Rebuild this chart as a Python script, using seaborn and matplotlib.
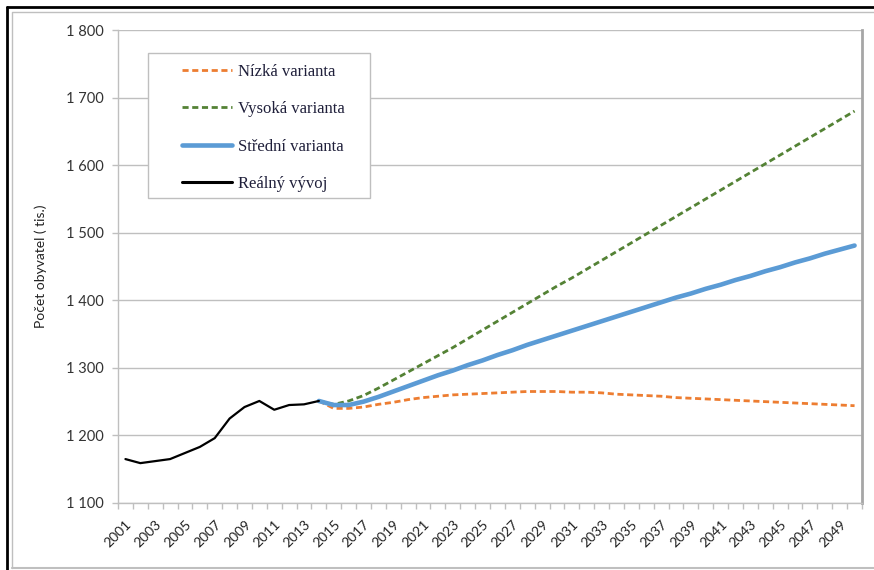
import matplotlib
matplotlib.use("Agg")
import numpy as np
import pandas as pd
import seaborn as sns
import matplotlib.pyplot as plt
from matplotlib.lines import Line2D
from matplotlib.patches import Rectangle
from matplotlib.ticker import FuncFormatter, MultipleLocator

#chart data
years_real = list(range(2001, 2015))
real = [1165, 1159, 1162, 1165, 1174, 1183, 1196, 1225, 1242, 1251, 1238, 1245, 1246, 1251]

years_proj = list(range(2014, 2051))
nizka = [1251, 1240, 1240, 1242, 1246, 1249, 1253, 1256, 1258, 1260, 1261, 1262, 1263, 1264,
         1265, 1265, 1265, 1264, 1264, 1263, 1261, 1260, 1259, 1258, 1256, 1255, 1254, 1253,
         1252, 1251, 1250, 1249, 1248, 1247, 1246, 1245, 1244]
vysoka = [1251, 1246, 1251, 1259, 1270, 1282, 1294, 1306, 1318, 1330, 1343, 1356, 1369, 1382,
          1395, 1408, 1421, 1433, 1446, 1459, 1472, 1485, 1498, 1511, 1524, 1537, 1550, 1563,
          1576, 1589, 1602, 1615, 1628, 1641, 1654, 1667, 1680]
stredni = [1251, 1245, 1245, 1250, 1257, 1265, 1273, 1281, 1289, 1296, 1304, 1311, 1319, 1326,
           1334, 1341, 1348, 1355, 1362, 1369, 1376, 1383, 1390, 1397, 1404, 1410, 1417, 1423,
           1430, 1436, 1443, 1449, 1456, 1462, 1469, 1475, 1481]

labels = ['Nízká varianta', 'Vysoká varianta', 'Střední varianta', 'Reálný vývoj']
colors = ['#ED7D31', '#548235', '#5B9BD5', '#000000']

df_real = pd.DataFrame({'Rok': years_real, 'Hodnota': real})
df_proj = pd.DataFrame({'Rok': years_proj, 'nizka': nizka, 'vysoka': vysoka, 'stredni': stredni})

sns.set_theme(style='white')
plt.rcParams['font.family'] = ['Lato', 'DejaVu Sans']

W, H = 874, 570
fig = plt.figure(figsize=(W / 100, H / 100), dpi=100)
ax = fig.add_axes([118 / W, 1 - 503 / H, (862 - 118) / W, (503 - 30) / H])

grid_c = '#BFBFBF'
ax.yaxis.grid(True, color=grid_c, linewidth=1.0)
ax.set_axisbelow(True)

dash = (2.2, 1.3)
sns.lineplot(data=df_proj, x='Rok', y='nizka', ax=ax, color=colors[0], linewidth=2.0)
ax.lines[-1].set_dashes(dash)
sns.lineplot(data=df_proj, x='Rok', y='vysoka', ax=ax, color=colors[1], linewidth=2.0)
ax.lines[-1].set_dashes(dash)
sns.lineplot(data=df_proj, x='Rok', y='stredni', ax=ax, color=colors[2], linewidth=3.3,
             solid_capstyle='round')
sns.lineplot(data=df_real, x='Rok', y='Hodnota', ax=ax, color=colors[3], linewidth=1.6)

ax.set_xlim(2000.5, 2050.5)
ax.set_ylim(1100, 1800)
ax.yaxis.set_major_locator(MultipleLocator(100))
ax.yaxis.set_major_formatter(FuncFormatter(lambda v, p: f"{int(v):,}".replace(',', ' ')))

ax.set_xticks(range(2001, 2051, 2))
ax.set_xticks(np.arange(2000.5, 2051, 1), minor=True)
ax.tick_params(axis='x', which='major', length=0, labelsize=10, pad=11, colors='#222222')
ax.tick_params(axis='x', which='minor', length=4, width=1, color=grid_c, direction='out', bottom=True)
ax.tick_params(axis='y', which='major', length=4, width=1, color=grid_c, direction='out', left=True,
               labelsize=10.5, colors='#333333', pad=6)
for lab in ax.get_xticklabels():
    lab.set_rotation(45)
    lab.set_ha('right')
    lab.set_rotation_mode('anchor')

ax.set_xlabel('')
ax.set_ylabel('Počet obyvatel ( tis.)', fontsize=10, labelpad=14, color='#222222')

for side in ['left', 'bottom']:
    ax.spines[side].set_color(grid_c)
    ax.spines[side].set_linewidth(1.0)
ax.spines['right'].set_color('#A6A6A6')
ax.spines['right'].set_linewidth(2.0)
ax.spines['top'].set_visible(False)

# legend box drawn separately so its size matches the original
ax.add_patch(Rectangle((148 / W, 1 - 198 / H), (370 - 148) / W, (198 - 53) / H,
                       transform=fig.transFigure, facecolor='white', edgecolor=grid_c,
                       linewidth=1.0, zorder=4))

handles = [
    Line2D([], [], color=colors[0], linewidth=2.0, dashes=dash),
    Line2D([], [], color=colors[1], linewidth=2.0, dashes=dash),
    Line2D([], [], color=colors[2], linewidth=3.3),
    Line2D([], [], color=colors[3], linewidth=2.2),
]
leg = fig.legend(handles, labels, loc='upper left', bbox_to_anchor=(182 / W, 1 - 64 / H),
                 borderaxespad=0, borderpad=0, frameon=False,
                 prop={'family': 'Liberation Serif', 'size': 12},
                 handlelength=3.0, handletextpad=0.35, labelspacing=1.28)
for t in leg.get_texts():
    t.set_color('#1f1f3a')

# frame of the original picture: black on top and left, grey inside and at the bottom
fig.add_artist(Line2D([7 / W, 7 / W], [0, 1 - 7 / H], transform=fig.transFigure,
                      color='black', linewidth=2.0))
fig.add_artist(Line2D([7 / W, 1], [1 - 7 / H, 1 - 7 / H], transform=fig.transFigure,
                      color='black', linewidth=2.0))
fig.add_artist(Line2D([12 / W, 12 / W, 1], [1 - 568 / H, 1 - 12 / H, 1 - 12 / H],
                      transform=fig.transFigure, color=grid_c, linewidth=1.0))
fig.add_artist(Line2D([12 / W, 1], [1 - 568 / H, 1 - 568 / H], transform=fig.transFigure,
                      color=grid_c, linewidth=1.5))

fig.savefig('out.png', dpi=100)
